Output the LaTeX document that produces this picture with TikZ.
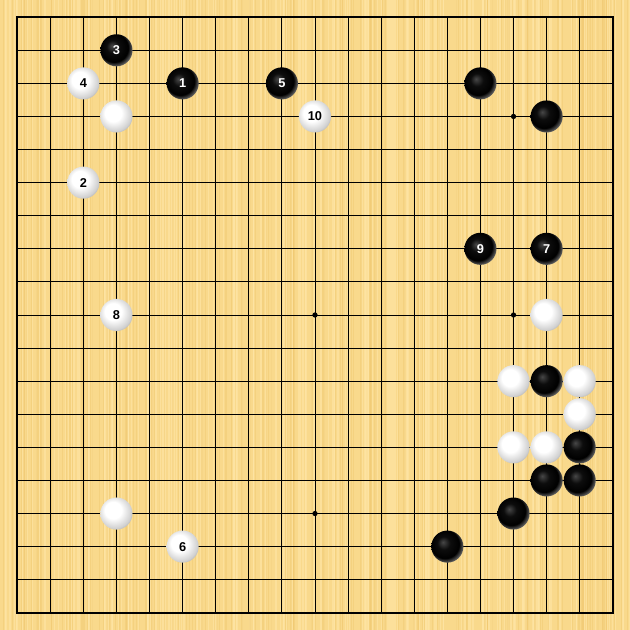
\documentclass[tikz,border=0pt]{standalone}
\usepackage{fontspec}
\setsansfont{Liberation Sans}
\usepackage{xcolor}
\usepackage{tikz}
\usetikzlibrary{positioning}

\definecolor{board}{RGB}{249,217,140}
\definecolor{grain light}{RGB}{255,231,168}
\definecolor{grain dark}{RGB}{240,200,112}
\pgfdeclareradialshading{blackstone}{\pgfpoint{-7bp}{7bp}}{color(0bp)=(black!72); color(10bp)=(black!95); color(22bp)=(black); color(30bp)=(black!50); color(50bp)=(black!45)}
\pgfdeclareradialshading{whitestone}{\pgfpoint{-7bp}{7bp}}{color(0bp)=(white); color(13bp)=(white); color(26bp)=(black!18); color(33bp)=(black!38); color(50bp)=(black!38)}

\begin{document}
\begin{tikzpicture}[x=1cm, y=1cm,
    every stone/.style={circle, minimum size=0.97cm, inner sep=0pt,
      font=\sffamily\bfseries\fontsize{11}{11}\selectfont},
    black stone/.style={every stone, shade, shading=blackstone, text=white},
    white stone/.style={every stone, shade, shading=whitestone, text=black}]

    % board and wood grain
    \useasboundingbox (-0.52,-0.52) rectangle (18.52,18.52);
    \clip (-0.52,-0.52) rectangle (18.52,18.52);
    \fill[board] (-0.52,-0.52) rectangle (18.52,18.52);
    \pgfmathsetseed{17}
    \foreach \k in {1,...,220} {
      \pgfmathsetmacro{\gx}{-0.52+19.04*rnd}
      \pgfmathsetmacro{\gw}{0.15+0.45*rnd}
      \draw[grain light, line width=\gw mm, opacity=0.55] (\gx,-0.52) -- ++(0,19.04);
    }
    \foreach \k in {1,...,160} {
      \pgfmathsetmacro{\gx}{-0.52+19.04*rnd}
      \pgfmathsetmacro{\gw}{0.1+0.35*rnd}
      \draw[grain dark, line width=\gw mm, opacity=0.45] (\gx,-0.52) -- ++(0,19.04);
    }

    % grid
    \foreach \i in {1,...,17} {
      \draw[line width=0.8pt] (\i,0) -- (\i,18);
      \draw[line width=0.8pt] (0,\i) -- (18,\i);
    }
    \draw[line width=1.8pt] (0,0) rectangle (18,18);
    \foreach \x/\y in {3/3,9/3,15/3,3/9,9/9,15/9,3/15,9/15,15/15}
      \fill (\x,18-\y) circle (0.08);

    % numbered moves
    \foreach \n/\c/\r in {1/5/2,3/3/1,5/8/2,7/16/7,9/14/7}
      \node [black stone] (move-\n) at (\c,18-\r) {\n};

    \foreach \n/\c/\r in {2/2/5,4/2/2,6/5/16,8/3/9,10/9/3}
      \node [white stone] (move-\n) at (\c,18-\r) {\n};

    % other stones
    \foreach \c/\r in {14/2,16/3,16/11,17/13,16/14,17/14,15/15,13/16}
      \node [black stone] (black-\c-\r) at (\c,18-\r) {};

    \foreach \c/\r in {3/3,16/9,15/11,17/11,17/12,15/13,16/13,3/15}
      \node [white stone] (white-\c-\r) at (\c,18-\r) {};
\end{tikzpicture}
\end{document}
